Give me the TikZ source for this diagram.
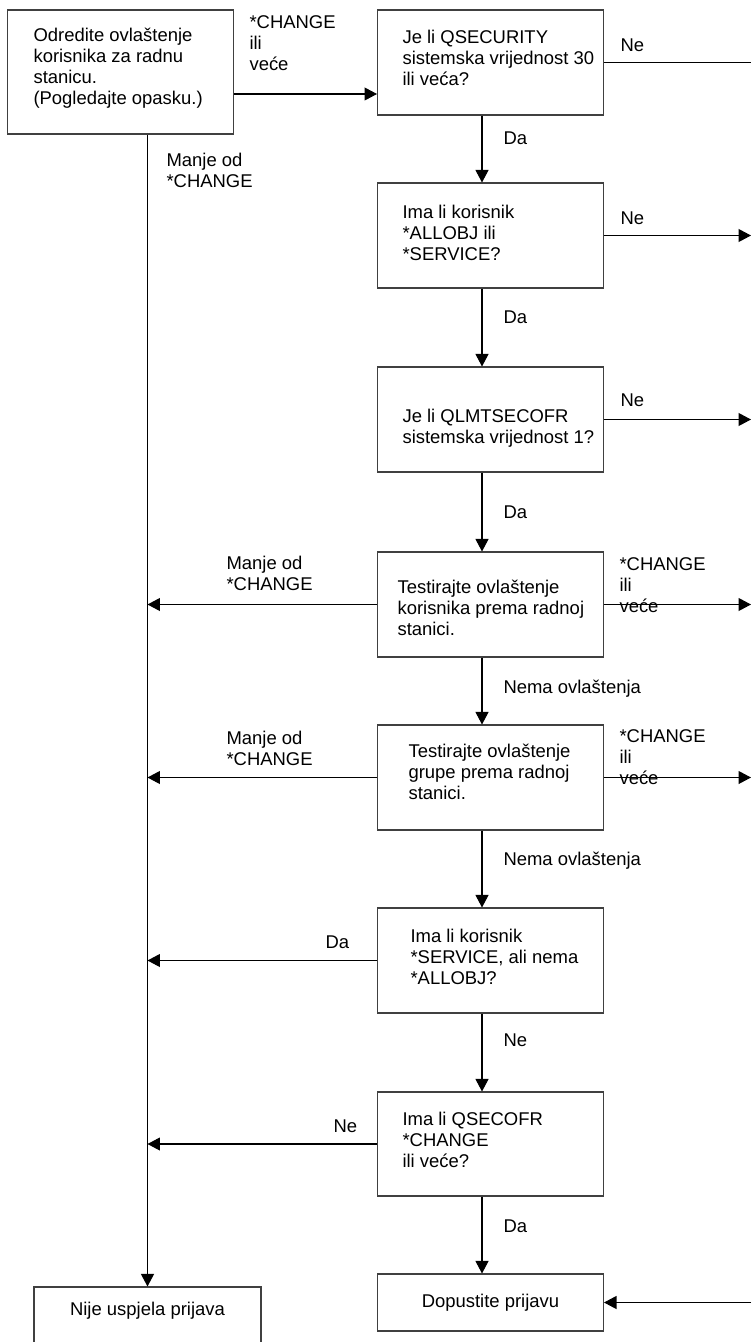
\documentclass[tikz,border=0pt]{standalone}
\usepackage{fontspec}
\setmainfont{Liberation Sans}
\usetikzlibrary{arrows.meta}

\begin{document}
\begin{tikzpicture}[x=0.02cm,y=-0.02cm,line width=0.6pt,inner sep=0pt,
    font=\fontsize{10.5pt}{12pt}\selectfont,
    box/.style={draw=black!75,minimum width=4.52cm,minimum height=2.1cm},
    txt/.style={anchor=west,align=left},
    arr/.style={-{Triangle[length=0.25cm,width=0.26cm]}}]
    \useasboundingbox (0,0) rectangle (752,1342);
    \clip (0,0) rectangle (752,1342);
    \coordinate (E) at (751,0);

    %boxes
    \node (B1) at (120.5,72) [box,minimum height=2.48cm]{};
    \node (B2) at (490.5,62.5) [box]{};
    \node (B3) at (490.5,235.5) [box]{};
    \node (B4) at (490.5,419.5) [box]{};
    \node (B5) at (490.5,604.5) [box]{};
    \node (B6) at (490.5,777.5) [box]{};
    \node (B7) at (490.5,960.5) [box]{};
    \node (B8) at (490.5,1144) [box,minimum height=2.08cm]{};
    \node (B9) at (490.5,1302.5) [box,minimum height=1.14cm]{Dopustite prijavu};
    \node (B10) at (147.5,1327) [box,minimum width=4.54cm,minimum height=1.6cm]{};

    %box texts
    \node (T1) at (33,68) [txt]{Odredite ovlaštenje\\korisnika za radnu\\stanicu.\\(Pogledajte opasku.)};
    \node (T2) at (402,58) [txt]{Je li QSECURITY\\sistemska vrijednost 30\\ili veća?};
    \node (T3) at (402,233) [txt]{Ima li korisnik\\*ALLOBJ ili\\*SERVICE?};
    \node (T4) at (402,428) [txt]{Je li QLMTSECOFR\\sistemska vrijednost 1?};
    \node (T5) at (397,608) [txt]{Testirajte ovlaštenje\\korisnika prema radnoj\\stanici.};
    \node (T6) at (408,772) [txt]{Testirajte ovlaštenje\\grupe prema radnoj\\stanici.};
    \node (T7) at (410,957) [txt]{Ima li korisnik\\*SERVICE, ali nema\\*ALLOBJ?};
    \node (T8) at (402,1140) [txt]{Ima li QSECOFR\\*CHANGE\\ili veće?};
    \node (T10) at (147.5,1311) {Nije uspjela prijava};

    %labels
    \node (L1) at (249,43) [txt]{*CHANGE\\ili\\veće};
    \node (L2) at (166,170) [txt]{Manje od\\*CHANGE};
    \node (L3) at (620,45) [txt]{Ne};
    \node (L4) at (503,138) [txt]{Da};
    \node (L5) at (620,218) [txt]{Ne};
    \node (L6) at (503,317) [txt]{Da};
    \node (L7) at (620,400) [txt]{Ne};
    \node (L8) at (503,512) [txt]{Da};
    \node (L9) at (226,573) [txt]{Manje od\\*CHANGE};
    \node (L10) at (619,585) [txt]{*CHANGE\\ili\\veće};
    \node (L11) at (503,689) [txt]{Nema ovlaštenja};
    \node (L12) at (226,748) [txt]{Manje od\\*CHANGE};
    \node (L13) at (619,757) [txt]{*CHANGE\\ili\\veće};
    \node (L14) at (503,861) [txt]{Nema ovlaštenja};
    \node (L15) at (325,942) [txt]{Da};
    \node (L16) at (503,1040) [txt]{Ne};
    \node (L17) at (333,1126) [txt]{Ne};
    \node (L18) at (503,1226) [txt]{Da};

    %main line down
    \draw [arr] ([yshift=-0.44cm]B1.east) -- ([yshift=-0.44cm]B1.east -| B2.west);
    \draw [arr] ([xshift=-0.17cm]B2.south) -- ([xshift=-0.17cm]B3.north);
    \draw [arr] ([xshift=-0.17cm]B3.south) -- ([xshift=-0.17cm]B4.north);
    \draw [arr] ([xshift=-0.17cm]B4.south) -- ([xshift=-0.17cm]B5.north);
    \draw [arr] ([xshift=-0.17cm]B5.south) -- ([xshift=-0.17cm]B6.north);
    \draw [arr] ([xshift=-0.17cm]B6.south) -- ([xshift=-0.17cm]B7.north);
    \draw [arr] ([xshift=-0.17cm]B7.south) -- ([xshift=-0.17cm]B8.north);
    \draw [arr] ([xshift=-0.17cm]B8.south) -- ([xshift=-0.17cm]B9.north);

    %to the right edge
    \draw (B2.east) -- (B2.east -| E);
    \draw [arr] (B3.east) -- (B3.east -| E);
    \draw [arr] (B4.east) -- (B4.east -| E);
    \draw [arr] (B5.east) -- (B5.east -| E);
    \draw [arr] (B6.east) -- (B6.east -| E);
    \draw [arr] (B9.east -| E) -- (B9.east);

    %failure line
    \draw [arr] (B10.north |- B1.south) -- (B10.north);
    \draw [arr] (B5.west) -- (B5.west -| B10.north);
    \draw [arr] (B6.west) -- (B6.west -| B10.north);
    \draw [arr] (B7.west) -- (B7.west -| B10.north);
    \draw [arr] (B8.west) -- (B8.west -| B10.north);
\end{tikzpicture}
\end{document}
